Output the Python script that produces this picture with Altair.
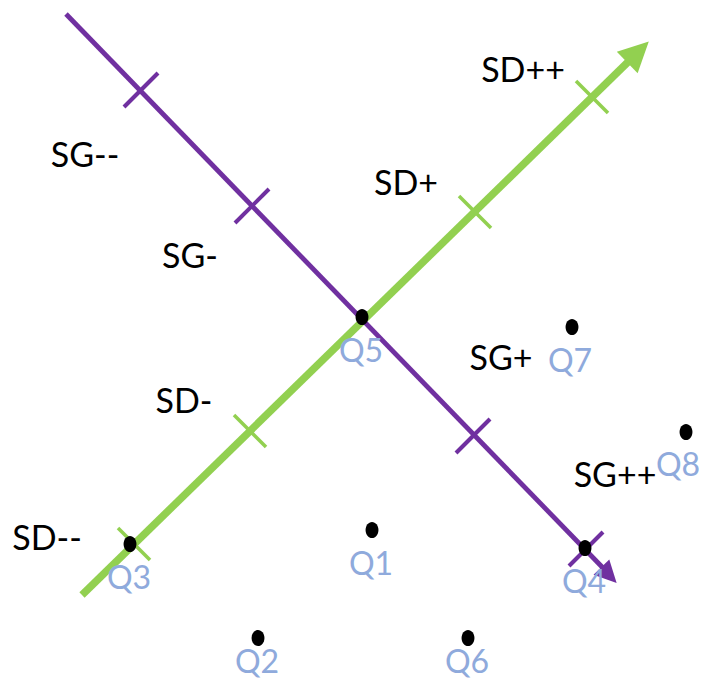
import altair as alt
import pandas as pd

# ---- data (diagram coordinates, in picture units) ----
purple_line_x = [66, 605]
purple_line_y = [14, 570]
green_line_x = [82, 628]
green_line_y = [595, 62]

purple_tick_x = [141, 252, 473, 586]
purple_tick_y = [90, 206, 436, 549]
green_tick_x = [134, 250, 475, 592]
green_tick_y = [544, 431, 212, 97]

dot_names = ["Q5", "Q7", "Q8", "Q1", "Q3", "Q4", "Q2", "Q6"]
dot_x = [362, 572, 686, 372, 130, 585, 258, 468]
dot_y = [317, 327, 432, 530, 544, 548, 638, 638]
qlabel_x = [361, 570, 678, 371, 129, 584, 257, 467]
qlabel_y = [352, 362, 466, 565, 579, 583, 663, 663]

zone_labels = ["SD++", "SG--", "SD+", "SG-", "SG+", "SD-", "SG++", "SD--"]
zone_x = [523, 85, 406, 190, 501, 184, 615, 47]
zone_y = [72, 157, 185, 258, 360, 403, 477, 540]

arrow_names = ["green", "purple"]
arrow_x = [638, 609]
arrow_y = [52, 575]

PURPLE = "#7030A0"
GREEN = "#92D050"
QBLUE = "#8FAADC"

W, H = 691, 672
xs = alt.Scale(domain=[8, 8 + W], nice=False, zero=False)
ys = alt.Scale(domain=[8, 8 + H], nice=False, zero=False, reverse=True)
X = lambda f: alt.X(f, type="quantitative", scale=xs, axis=None)
Y = lambda f: alt.Y(f, type="quantitative", scale=ys, axis=None)

purple_df = pd.DataFrame({"x": purple_line_x, "y": purple_line_y, "o": range(2)})
green_df = pd.DataFrame({"x": green_line_x, "y": green_line_y, "o": range(2)})

pt = pd.DataFrame({"cx": purple_tick_x, "cy": purple_tick_y})
pt["x1"] = pt.cx - 17
pt["y1"] = pt.cy + 17
pt["x2"] = pt.cx + 17
pt["y2"] = pt.cy - 17
gt = pd.DataFrame({"cx": green_tick_x, "cy": green_tick_y})
gt["x1"] = gt.cx - 16
gt["y1"] = gt.cy - 16
gt["x2"] = gt.cx + 16
gt["y2"] = gt.cy + 16

dots = pd.DataFrame({"name": dot_names, "x": dot_x, "y": dot_y,
                     "lx": qlabel_x, "ly": qlabel_y})
zones = pd.DataFrame({"t": zone_labels, "x": zone_x, "y": zone_y})
arrows = pd.DataFrame({"n": arrow_names, "x": arrow_x, "y": arrow_y})

green_line = alt.Chart(green_df).mark_line(color=GREEN, strokeWidth=7.5, strokeCap="butt").encode(
    x=X("x"), y=Y("y"), order="o:Q")
purple_line = alt.Chart(purple_df).mark_line(color=PURPLE, strokeWidth=4.8, strokeCap="butt").encode(
    x=X("x"), y=Y("y"), order="o:Q")

green_ticks = alt.Chart(gt).mark_rule(color=GREEN, strokeWidth=3.5).encode(
    x=X("x1"), y=Y("y1"), x2="x2:Q", y2="y2:Q")
purple_ticks = alt.Chart(pt).mark_rule(color=PURPLE, strokeWidth=4).encode(
    x=X("x1"), y=Y("y1"), x2="x2:Q", y2="y2:Q")

tri = "M0,-1 L1,1 L-1,1 Z"
green_head = alt.Chart(arrows).transform_filter("datum.n == 'green'").mark_point(
    shape=tri, filled=True, color=GREEN, opacity=1, size=900, angle=46, strokeWidth=0).encode(
    x=X("x"), y=Y("y"))
purple_head = alt.Chart(arrows).transform_filter("datum.n == 'purple'").mark_point(
    shape=tri, filled=True, color=PURPLE, opacity=1, size=480, angle=136, strokeWidth=0).encode(
    x=X("x"), y=Y("y"))

ellipse = "M-0.8,0 A0.8,1 0 1,1 0.8,0 A0.8,1 0 1,1 -0.8,0 Z"
dot_layer = alt.Chart(dots).mark_point(
    shape=ellipse, filled=True, color="black", opacity=1, size=260, strokeWidth=0).encode(
    x=X("x"), y=Y("y"))
qlabels = alt.Chart(dots).mark_text(
    font="Lato", fontSize=32, color=QBLUE, align="center", baseline="middle").encode(
    x=X("lx"), y=Y("ly"), text="name:N")
zone_text = alt.Chart(zones).mark_text(
    font="Lato", fontSize=34, color="black", align="center", baseline="middle").encode(
    x=X("x"), y=Y("y"), text="t:N")

chart = alt.layer(
    green_line, green_ticks, green_head,
    purple_line, purple_ticks, purple_head,
    dot_layer, qlabels, zone_text,
).properties(
    width=W, height=H, background="white",
    autosize=alt.AutoSizeParams(type="none"),
    padding=0,
).configure_view(stroke=None)

chart.save("out.html", embed_options={"renderer": "svg", "actions": False})
